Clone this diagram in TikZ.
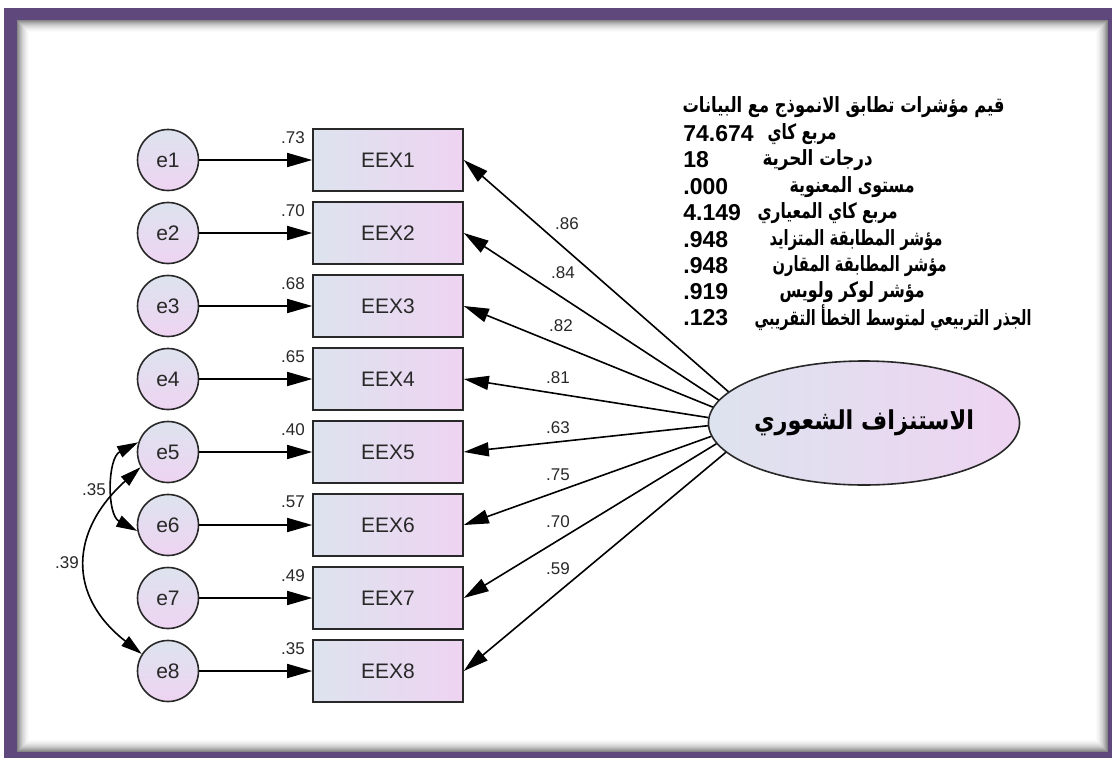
\documentclass[tikz,border=0pt]{standalone}
\usepackage{graphicx}
\usepackage{fontspec}
\setmainfont{Liberation Sans}
\newfontfamily\arabicfont[Script=Arabic]{DejaVu Sans}
\TeXXeTstate=1
\usetikzlibrary{shapes.geometric,arrows.meta}
\definecolor{framepurple}{RGB}{94,72,124}
\definecolor{boxblue}{RGB}{221,227,239}
\definecolor{boxpink}{RGB}{238,212,241}
\definecolor{inkgray}{RGB}{40,40,40}
% Arabic text squeezed to a given width (in pt).
\newcommand{\artextw}[2]{\resizebox{#1pt}{\height}{\arabicfont\bfseries #2}}

\begin{document}
\begin{tikzpicture}[x=1pt,y=-1pt,thick]
	% `errvar' is used for the error terms, `indicator' for the observed items.
	% `latent' is the factor, `regpath' and `covpath' are the arrows.
	\tikzstyle{errvar} = [draw=inkgray,line width=1.6pt,circle,minimum size=61pt,inner sep=0pt,top color=boxblue,bottom color=boxpink,font=\fontsize{21}{21}\selectfont,text=inkgray]
	\tikzstyle{indicator} = [draw=inkgray,line width=1.6pt,rectangle,minimum width=150pt,minimum height=62pt,left color=boxblue,right color=boxpink,font=\fontsize{21}{21}\selectfont,text=inkgray]
	\tikzstyle{latent} = [draw=inkgray,line width=1.6pt,ellipse,minimum width=310pt,minimum height=124pt,inner sep=0pt,left color=boxblue,right color=boxpink,font=\fontsize{26}{26}\selectfont]
	\tikzstyle{estimate} = [font=\fontsize{17}{17}\selectfont,text=inkgray,inner sep=0pt]
	\tikzstyle{regpath} = [line width=1.6pt,draw=black,-{Triangle[length=25pt,width=14pt]}]
	\tikzstyle{covpath} = [line width=1.6pt,draw=black,{Triangle[length=21pt,width=12pt]}-{Triangle[length=21pt,width=12pt]}]
	\tikzstyle{fitnum} = [anchor=west,inner sep=0pt,font=\fontsize{23}{23}\selectfont\bfseries]
	\tikzstyle{fitlabel} = [anchor=east,inner sep=0pt,font=\fontsize{21}{21}\selectfont]
	%
	\useasboundingbox (0,0) rectangle (1112,758);
	% Frame with inner shadow.
	\fill[framepurple] (4,8) rectangle (1112,758);
	\foreach \i in {0,...,14} {
		\pgfmathtruncatemacro\shd{48*(1-\i/14)^2}
		\fill[black!\shd] (17+\i,20+\i) rectangle (1108-\i,752-\i);
	}
	%
	% Error terms and items.
	\foreach \i/\var in {1/.73,2/.70,3/.68,4/.65,5/.40,6/.57,7/.49,8/.35} {
		\node[errvar] (e\i) at (168,160+73*\i-73) {e\i};
		\node[indicator] (x\i) at (388,160+73*\i-73) {EEX\i};
		\node[estimate,anchor=east] (v\i) at ([xshift=-7pt,yshift=-9pt]x\i.north west) {\var};
		\draw[regpath] (e\i) -- (x\i);
	}
	%
	% Latent factor and loadings.
	\node[latent] (lat) at (864,423) {\artextw{220}{\beginR الاستنزاف الشعوري\endR}};
	\foreach \i/\ang/\load/\lx/\ly in {1/167/.86/567/224,2/171/.84/563/273,3/174.5/.82/561/326,4/178/.81/558/378,5/181.5/.63/558/428,6/185/.75/558/475,7/188.5/.70/558/522,8/192/.59/558/569} {
		\draw[regpath] (lat.\ang) -- (x\i.east);
		\node[estimate] (l\i) at (\lx,\ly) {\load};
	}
	%
	% Error covariances.
	\draw[covpath] (e5.162) to[out=207,in=152] (e6.191);
	\draw[covpath] (e5.209) to[out=222,in=142,looseness=1.3] (e8.147);
	\node[estimate] (c56) at (94,490) {.35};
	\node[estimate] (c58) at (67,563) {.39};
	%
	% Fit indices.
	\node[fitlabel] (fit0) at (1005,107) {\artextw{322}{\beginR قيم مؤشرات تطابق الانموذج مع البيانات\endR}};
	\foreach \i/\y/\num in {1/134/74.674,2/160/18,3/187/.000,4/213/4.149,5/240/.948,6/266/.948,7/292/.919,8/318/.123}
		\node[fitnum] (num\i) at (683,\y) {\num};
	\node[fitlabel] (fit1) at (837,134) {\artextw{69}{\beginR مربع كاي\endR}};
	\node[fitlabel] (fit2) at (873,160) {\artextw{110}{\beginR درجات الحرية\endR}};
	\node[fitlabel] (fit3) at (915,187) {\artextw{125}{\beginR مستوى المعنوية\endR}};
	\node[fitlabel] (fit4) at (898,213) {\artextw{140}{\beginR مربع كاي المعياري\endR}};
	\node[fitlabel] (fit5) at (943,240) {\artextw{173}{\beginR مؤشر المطابقة المتزايد\endR}};
	\node[fitlabel] (fit6) at (947,266) {\artextw{174}{\beginR مؤشر المطابقة المقارن\endR}};
	\node[fitlabel] (fit7) at (925,292) {\artextw{145}{\beginR مؤشر لوكر ولويس\endR}};
	\node[fitlabel] (fit8) at (1032,318) {\artextw{277}{\beginR الجذر التربيعي لمتوسط الخطأ التقريبي\endR}};
\end{tikzpicture}
\end{document}
